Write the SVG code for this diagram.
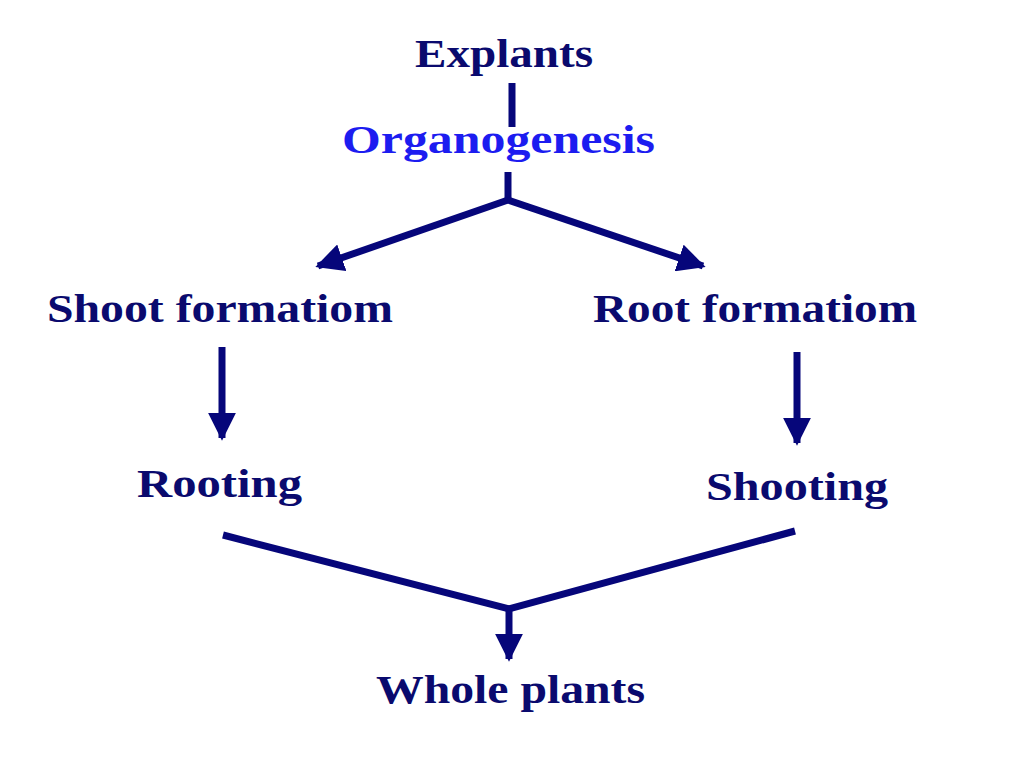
<svg xmlns="http://www.w3.org/2000/svg" width="1024" height="768" viewBox="0 0 1024 768">
<defs>
<style>
.t{font-family:"Liberation Serif","Times New Roman",serif;font-weight:bold;font-size:40px;fill:#0a0a6e;text-anchor:start}
.b{fill:#1c1cf0}
.c{stroke:#06067a;stroke-width:7;fill:none;stroke-linecap:butt}
</style>
<marker id="ah" viewBox="0 0 10 10" refX="9" refY="5" markerWidth="4" markerHeight="4" orient="auto" markerUnits="strokeWidth">
<path d="M0,0 L10,5 L0,10 z" fill="#06067a"/>
</marker>
</defs>
<rect width="1024" height="768" fill="#ffffff"/>
<g id="connectors">
<line class="c" x1="512" y1="83" x2="512" y2="127"/>
<polyline class="c" points="508,172 508,200"/>
<line class="c" x1="508" y1="200" x2="318" y2="266" marker-end="url(#ah)"/>
<line class="c" x1="508" y1="200" x2="703" y2="266" marker-end="url(#ah)"/>
<line class="c" x1="222" y1="347" x2="222" y2="438" marker-end="url(#ah)"/>
<line class="c" x1="797" y1="352" x2="797" y2="443" marker-end="url(#ah)"/>
<polyline class="c" points="223,535 509,609 795,531"/>
<line class="c" x1="509" y1="606" x2="509" y2="659" marker-end="url(#ah)"/>
</g>
<g id="explants"><text class="t" x="415" y="67" textLength="178" lengthAdjust="spacingAndGlyphs">Explants</text></g>
<g id="organogenesis"><text class="t b" x="342" y="153" textLength="313" lengthAdjust="spacingAndGlyphs">Organogenesis</text></g>
<g id="shoot-formation"><text class="t" x="47" y="322" textLength="346" lengthAdjust="spacingAndGlyphs">Shoot formatiom</text></g>
<g id="root-formation"><text class="t" x="593" y="322" textLength="324" lengthAdjust="spacingAndGlyphs">Root formatiom</text></g>
<g id="rooting"><text class="t" x="137" y="497" textLength="165" lengthAdjust="spacingAndGlyphs">Rooting</text></g>
<g id="shooting"><text class="t" x="706" y="500" textLength="182" lengthAdjust="spacingAndGlyphs">Shooting</text></g>
<g id="whole-plants"><text class="t" x="376" y="703" textLength="269" lengthAdjust="spacingAndGlyphs">Whole plants</text></g>
</svg>
